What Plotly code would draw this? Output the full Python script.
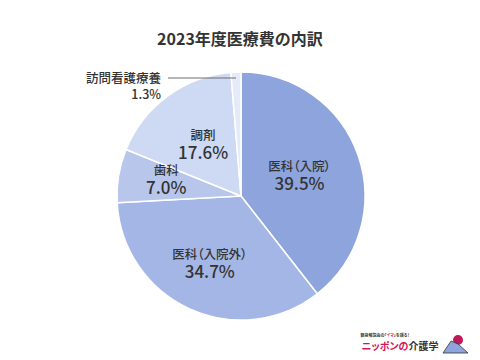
import math
import plotly.graph_objects as go

categories = ["医科（入院）", "医科（入院外）", "歯科", "調剤", "訪問看護療養"]
values = [39.5, 34.7, 7.0, 17.6, 1.3]
colors = ["#8ea4dc", "#a4b6e5", "#b8c6ec", "#ced9f3", "#e5eaf8"]
label_radius = [0.5, 0.6, 0.79, 0.52, None]  # style: relative radial position of inside labels

W, H = 480, 360
cx, cy, R = 241, 196, 124  # pie centre & radius in pixels (layout)
FONT = "Noto Sans CJK JP"

fig = go.Figure(go.Pie(
    labels=categories,
    values=values,
    textinfo="none",
    sort=False,
    direction="clockwise",
    rotation=0,
    marker=dict(colors=colors, line=dict(color="white", width=1.5)),
    domain=dict(x=[(cx - R) / W, (cx + R) / W], y=[(H - cy - R) / H, (H - cy + R) / H]),
    showlegend=False,
    hoverinfo="label+value",
))

total = sum(values)
cum = 0.0
for cat, v, fr in zip(categories, values, label_radius):
    mid = (cum + v / 2) / total * 2 * math.pi
    cum += v
    if fr is None:
        continue
    px = cx + fr * R * math.sin(mid)
    py = cy - fr * R * math.cos(mid)
    fig.add_annotation(
        x=px / W, y=1 - py / H, xref="paper", yref="paper",
        text=f"<span style='font-size:12.5px'>{cat}</span><br><span style='font-size:17px'>{v:.1f}%</span>",
        showarrow=False, yanchor="middle", align="center",
        font=dict(family=FONT, size=14.5, color="#333333", weight=500),
    )

# leader line & label for the small slice
fig.add_shape(type="line", xref="paper", yref="paper",
              x0=168 / W, x1=236 / W, y0=1 - 78 / H, y1=1 - 78 / H,
              line=dict(color="#6e6e6e", width=1.2))
fig.add_annotation(
    x=164 / W, y=1 - 85 / H, xref="paper", yref="paper", xanchor="right", yanchor="middle",
    text=f"{categories[4]}<br>{values[4]:.1f}%", showarrow=False, align="right",
    font=dict(family=FONT, size=12.5, color="#333333", weight=500),
)

fig.add_annotation(
    x=0.5, y=1 - 38 / H, xref="paper", yref="paper", yanchor="middle",
    text="<b>2023年度医療費の内訳</b>",
    showarrow=False, font=dict(family=FONT, size=16, color="#333333"),
)

# logo
fig.add_annotation(
    x=415 / W, y=1 - 335 / H, xref="paper", yref="paper", xanchor="right", yanchor="middle",
    text="<b>親身解説会の「<span style='color:#d4145a'>イマ</span>」を語る！</b>", showarrow=False,
    font=dict(family=FONT, size=4, color="#333333"),
)
fig.add_annotation(
    x=442 / W, y=1 - 345 / H, xref="paper", yref="paper", xanchor="right", yanchor="middle",
    text="<b><span style='color:#d4145a'>ニッポンの</span>介護学</b>", showarrow=False,
    font=dict(family=FONT, size=10, color="#333333"),
)
fig.add_shape(type="circle", xref="paper", yref="paper",
              x0=453 / W, x1=463 / W, y0=1 - 345 / H, y1=1 - 335 / H,
              fillcolor="#c0185a", line=dict(width=0))
fig.add_shape(type="path", xref="paper", yref="paper",
              path=f"M {443/W} {1-353/H} L {451/W} {1-341/H} L {458/W} {1-344/H} L {468/W} {1-353/H} Z",
              fillcolor="#8ea4dc", line=dict(color="#333333", width=0.8))

fig.update_layout(
    width=W, height=H,
    margin=dict(l=0, r=0, t=0, b=0),
    paper_bgcolor="white",
    font=dict(family=FONT),
)
post = (
    "document.body.style.margin='0';document.body.style.overflow='hidden';"
    "document.querySelectorAll('text').forEach(function(t){t.style.fontFeatureSettings='\"palt\"';});"
)
fig.write_html("out.html", config={"displayModeBar": False}, post_script=post)
